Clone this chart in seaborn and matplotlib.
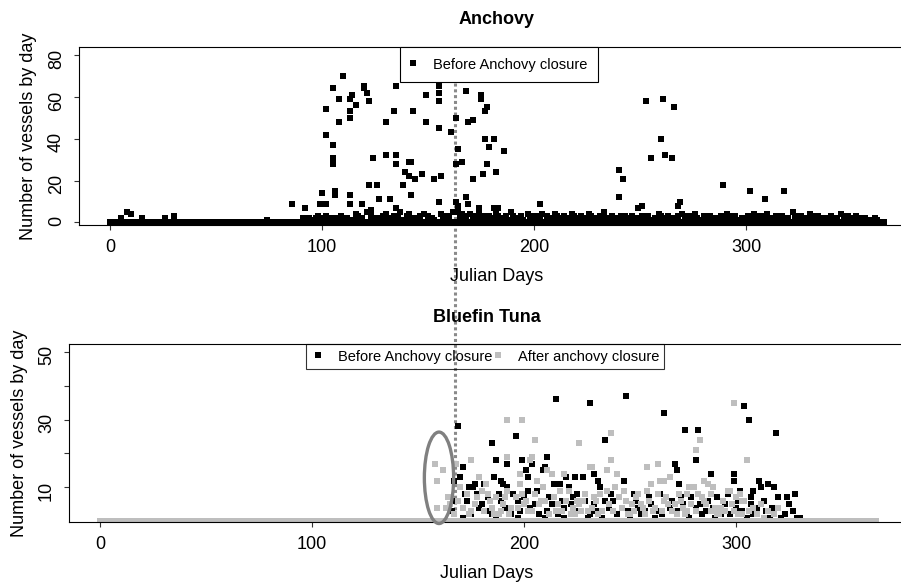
import matplotlib

matplotlib.use("Agg")
import matplotlib.pyplot as plt  # noqa: E402
from matplotlib.lines import Line2D  # noqa: E402
from matplotlib.patches import Ellipse  # noqa: E402
import seaborn as sns  # noqa: E402

# ---- Anchovy: vessels per day ------------------------------------------------
anch_day = [110, 105, 120, 120, 121, 135, 155, 155, 168, 108, 113, 114, 122, 116, 149,
            155, 102, 113, 113, 134, 143, 108, 130, 149, 155, 161, 163, 169, 102, 105,
            105, 105, 124, 130, 135, 135, 141, 142, 163, 166, 164, 139, 141, 144, 147,
            153, 156, 122, 126, 138, 100, 106, 106, 113, 127, 132, 142, 155, 86, 92,
            99, 102, 113, 119, 123, 135, 163, 164, 168, 175, 175, 178, 177, 171, 177,
            181, 179, 186, 178, 171, 176, 182, 169, 174, 181, 183, 203, 240, 242, 240,
            253, 255, 249, 233, 261, 266, 260, 262, 265, 289, 302, 309, 318, 269, 268,
            251, 8, 10, 5, 15, 26, 30, 74]
anch_n = [70, 64, 65, 64, 62, 65, 65, 62, 63, 59, 59, 61, 58, 56, 61,
          58, 54, 53, 50, 53, 53, 48, 48, 48, 45, 43, 50, 48, 42, 37,
          31, 28, 31, 32, 32, 28, 29, 29, 28, 29, 35, 24, 22, 21, 23,
          21, 22, 18, 18, 18, 14, 15, 13, 13, 11, 11, 13, 10, 9, 7,
          9, 9, 9, 9, 6, 7, 10, 8, 12, 61, 59, 55, 53, 49, 40,
          40, 36, 34, 28, 21, 23, 24, 9, 7, 7, 7, 9, 25, 21, 12,
          58, 31, 7, 5, 59, 55, 40, 32, 31, 18, 15, 11, 15, 10, 8,
          8, 5, 4, 2, 2, 2, 3, 1]

# dense low band (1-5 vessels)
anch_low_day = [91, 98, 108, 116, 121, 130, 137, 141, 148, 156, 162, 166, 164, 170, 174,
                182, 189, 197, 204, 210, 218, 226, 241, 259, 270, 276, 288, 291, 304, 310,
                322, 330, 335, 345, 348, 353, 95, 100, 103, 106, 111, 118, 125, 128, 133,
                138, 145, 151, 153, 159, 167, 172, 177, 180, 185, 188, 193, 195, 200, 207,
                213, 215, 221, 224, 229, 236, 238, 245, 247, 252, 256, 262, 265, 273, 279,
                282, 285, 294, 297, 300, 307, 313, 316, 319, 325, 327, 332, 338, 341, 350,
                356, 359, 362, 92, 97,
                94, 99, 102, 104, 109, 112, 114, 117, 119, 123, 126, 129, 131, 134, 136,
                140, 143, 146, 150, 152, 157, 158, 160, 165, 168, 171, 173, 176, 179, 183,
                186, 187, 190, 192, 194, 198, 201, 203, 206, 209, 211, 214, 217, 219, 222,
                225, 227, 231, 234, 237, 240, 243, 246, 248, 251, 254, 257, 260, 263, 266,
                268, 271, 274, 277, 280, 283, 286, 289, 292, 295, 298, 301, 303, 305, 308,
                311, 314, 317, 320, 323, 326, 329, 331, 334, 337, 340, 343, 346, 349, 352,
                355, 358, 361]
anch_low_n = [2, 3, 2, 4, 5, 4, 5, 4, 4, 4, 5, 4, 5, 4, 4,
              5, 5, 4, 4, 4, 4, 4, 3, 4, 4, 4, 3, 4, 4, 4,
              5, 4, 2, 4, 3, 2, 1, 2, 1, 2, 1, 2, 2, 1, 2,
              1, 2, 2, 1, 2, 1, 2, 1, 2, 2, 1, 2, 1, 2, 1,
              2, 1, 2, 1, 2, 1, 2, 2, 1, 2, 1, 2, 1, 2, 1,
              2, 1, 2, 1, 2, 1, 2, 1, 2, 1, 2, 1, 2, 1, 1,
              2, 1, 1, 1, 2,
              2, 1, 3, 2, 3, 2, 1, 3, 2, 3, 2, 3, 2, 3, 2,
              3, 2, 3, 3, 2, 3, 1, 3, 2, 3, 3, 1, 3, 3, 3,
              2, 3, 3, 1, 3, 3, 3, 2, 3, 2, 3, 3, 2, 3, 3,
              2, 3, 3, 2, 3, 1, 3, 3, 2, 3, 3, 2, 3, 3, 2,
              3, 3, 3, 2, 3, 3, 2, 3, 3, 3, 2, 3, 2, 3, 3,
              2, 3, 3, 2, 3, 3, 2, 3, 3, 2, 3, 2, 3, 2, 3,
              2, 1, 2]

# days with zero vessels (the solid row at 0)
anch_zero_day = list(range(0, 366))

# ---- Bluefin tuna: before / after anchovy closure ----------------------------
bft_before_day = [215, 231, 248, 266, 304, 306, 276, 282, 319, 169, 196, 185, 238, 211, 281,
                  187, 192, 199, 204, 201, 209, 210, 233, 239, 271, 272, 288, 299, 299, 186,
                  190, 202, 215, 217, 220, 224, 228, 235, 247, 273, 311, 315, 308, 307, 302,
                  320, 324, 328, 291, 295, 300, 314, 327, 167, 177, 174, 171, 312, 318, 307,
                  308, 323, 221, 236, 223, 241, 253, 259, 267, 274, 219, 233, 244, 255, 265,
                  272, 281, 286, 234, 237, 170, 176, 181, 189, 192, 202, 206, 214, 217, 168,
                  173, 179, 184, 189, 197, 203, 211, 171, 187, 197, 210, 219, 230, 250, 262,
                  278, 290, 305, 316, 330,
                  166, 172, 175, 178, 180, 183, 185, 188, 191, 194, 195, 198, 200, 205, 207,
                  212, 213, 216, 218, 222, 225, 226, 229, 231, 238, 240, 242, 246, 249, 252,
                  254, 257, 260, 263, 264, 269, 270, 275, 277, 279, 283, 284, 287, 289, 293,
                  296, 297, 301, 303, 310, 313, 317, 321, 325, 329]
bft_before_n = [36, 35, 37, 32, 34, 30, 27, 27, 26, 28, 25, 23, 24, 19, 18,
                18, 17, 18, 17, 15, 15, 16, 14, 15, 17, 15, 14, 14, 12, 13,
                11, 13, 11, 11, 13, 13, 13, 12, 12, 11, 12, 11, 9, 7, 9,
                7, 7, 8, 7, 5, 4, 3, 3, 12, 11, 10, 16, 10, 10, 5,
                2, 2, 10, 10, 7, 8, 6, 7, 7, 7, 4, 5, 2, 2, 2,
                3, 4, 3, 3, 1, 13, 10, 11, 12, 10, 9, 9, 11, 9, 6,
                6, 4, 3, 6, 6, 4, 3, 1, 1, 1, 1, 1, 1, 1, 1,
                1, 1, 1, 1, 1,
                3, 8, 2, 8, 5, 7, 2, 8, 4, 2, 8, 3, 7, 5, 2,
                7, 5, 2, 6, 5, 8, 3, 6, 2, 6, 4, 6, 4, 3, 8,
                4, 3, 5, 3, 8, 4, 6, 5, 2, 7, 5, 2, 6, 4, 2,
                8, 2, 6, 3, 4, 6, 4, 1, 5, 1]

bft_after_day = [158, 162, 159, 164, 159, 163, 168, 175, 192, 199, 205, 192, 204, 299, 241,
                 226, 283, 281, 241, 305, 263, 258, 232, 203, 198, 213, 219, 239, 260, 266,
                 269, 285, 287, 296, 303, 179, 182, 244, 264, 278, 280, 289, 258, 267, 277,
                 282, 253, 248, 226, 233, 239, 245, 231, 170, 178, 184, 192, 198, 206, 209,
                 217, 175, 189, 194, 202, 215, 223, 230, 237, 256, 261, 270, 277, 288, 293,
                 297, 299, 303, 313, 302, 304, 211, 186, 200, 208, 222, 228, 250, 268, 274,
                 285, 292,
                 165, 167, 169, 171, 173, 174, 177, 180, 181, 183, 185, 187, 188, 190, 191,
                 193, 196, 197, 199, 201, 204, 205, 207, 210, 212, 214, 216, 218, 220, 221,
                 224, 225, 227, 229, 232, 234, 235, 236, 240, 242, 243, 246, 247, 249, 251,
                 252, 254, 255, 257, 259, 262, 263, 265, 266, 271, 272, 273, 275, 276, 279,
                 281, 284, 286, 288, 290, 291, 294, 295, 298, 300, 301, 306, 308, 310, 312,
                 315, 318, 320]
bft_after_n = [17, 15, 12, 7, 4, 4, 17, 18, 30, 30, 24, 19, 19, 35, 26,
               23, 24, 21, 18, 18, 17, 16, 16, 18, 14, 14, 14, 15, 11, 12,
               13, 12, 11, 9, 6, 13, 11, 14, 12, 10, 10, 10, 9, 7, 8,
               8, 7, 6, 5, 7, 9, 7, 16, 10, 7, 6, 9, 11, 12, 10,
               9, 3, 3, 4, 3, 3, 4, 3, 3, 4, 3, 3, 3, 3, 4,
               9, 3, 2, 1, 8, 6, 15, 2, 5, 6, 2, 6, 2, 5, 6,
               6, 2,
               5, 2, 6, 4, 8, 2, 5, 9, 3, 8, 4, 7, 2, 5, 7,
               2, 7, 4, 8, 6, 3, 8, 5, 6, 2, 7, 5, 3, 6, 9,
               2, 6, 3, 8, 4, 6, 2, 8, 5, 3, 10, 4, 9, 2, 5,
               3, 8, 5, 2, 6, 4, 8, 3, 6, 5, 2, 8, 4, 2, 5,
               3, 7, 5, 8, 4, 2, 6, 3, 5, 7, 2, 3, 4, 2, 5,
               3, 2, 4]

bft_zero_day = list(range(0, 367))

# ---- styling -----------------------------------------------------------------
sns.set_style("white")
plt.rcParams["font.family"] = ["Liberation Sans", "DejaVu Sans"]
plt.rcParams.update({"text.color": "black", "axes.labelcolor": "black",
                     "xtick.color": "black", "ytick.color": "black"})
BLACK, GREY = "#000000", "#BEBEBE"
FS = 13
W, H = 901, 584

fig = plt.figure(figsize=(W / 100, H / 100), dpi=100)


def axes_px(left, right, top, bottom):
    return fig.add_axes([left / W, 1 - bottom / H, (right - left) / W, (bottom - top) / H])


ax1 = axes_px(79.05, 914.75, 47, 225)
ax2 = axes_px(69.05, 904.75, 344, 522)
ax2.patch.set_alpha(0)

pts = dict(marker="s", s=22, linewidth=0, legend=False)

# top panel
sns.scatterplot(x=anch_zero_day, y=[0] * len(anch_zero_day), color=BLACK, ax=ax1, **pts)
sns.scatterplot(x=anch_low_day, y=anch_low_n, color=BLACK, ax=ax1, **pts)
sns.scatterplot(x=anch_day, y=anch_n, color=BLACK, ax=ax1, **pts)

# bottom panel
sns.scatterplot(x=bft_before_day, y=bft_before_n, color=BLACK, ax=ax2, **pts)
sns.scatterplot(x=bft_after_day, y=bft_after_n, color=GREY, ax=ax2, **pts)
sns.scatterplot(x=bft_zero_day, y=[0] * len(bft_zero_day), color=GREY, ax=ax2, **pts)

ax1.set_xlim(-14.6, 379.6)
ax1.set_ylim(-1.2, 83.8)
ax2.set_xlim(-14.6, 379.6)
ax2.set_ylim(-0.25, 52.3)

for ax in (ax1, ax2):
    ax.set_xticks([0, 100, 200, 300])
    ax.tick_params(direction="out", length=3.6, width=0.8, pad=6.5, labelsize=FS,
                   color="#333333", labelcolor="black", left=True, bottom=True)
    ax.tick_params(axis="y", labelrotation=90)
    for sp in ax.spines.values():
        sp.set_color("black")
        sp.set_linewidth(0.8)
    ax.grid(False)
    ax.set_xlabel("Julian Days", fontsize=FS, color="black")
    ax.set_ylabel("Number of vessels by day", fontsize=FS, color="black")
    ax.xaxis.label.set_va("center")
    ax.yaxis.label.set_va("center")

ax1.set_yticks([0, 20, 40, 60, 80])
ax2.set_yticks([10, 20, 30, 40, 50])
ax2.set_yticklabels(["10", "", "30", "", "50"])

ax1.xaxis.set_label_coords(0.5, -52 / 178)
ax2.xaxis.set_label_coords(0.5, -51 / 178)
ax1.yaxis.set_label_coords(-51 / 835.7, 0.5)
ax2.yaxis.set_label_coords(-50 / 835.7, 0.5)

ax1.text(0.5, 1 + 27 / 178, "Anchovy", transform=ax1.transAxes, ha="center", va="center",
         fontsize=FS, fontweight="bold", color="black")
ax2.text(0.5, 1 + 27 / 178, "Bluefin Tuna", transform=ax2.transAxes, ha="center", va="center",
         fontsize=FS, fontweight="bold", color="black")

# closure date: dotted line running through both panels
ax1.add_line(Line2D([455 / W, 455 / W], [1 - 83 / H, 1 - 521 / H], transform=fig.transFigure,
                    color="#8a8a8a", lw=2.2, ls=(0, (1, 0.9)), clip_on=False, zorder=0.5))

# highlighted early tuna records
ax2.add_patch(Ellipse((159.9, 12.8), width=13.8, height=27, fill=False, ec="#808080", lw=2.4,
                      clip_on=False, zorder=3))

h_black = Line2D([], [], marker="s", ls="none", color=BLACK, markersize=4.6, markeredgewidth=0)
h_grey = Line2D([], [], marker="s", ls="none", color=GREY, markersize=4.6, markeredgewidth=0)

leg1 = ax1.legend([h_black], ["Before Anchovy closure"], loc="upper left",
                  bbox_to_anchor=(400 / W, 1 - 47 / H), bbox_transform=fig.transFigure,
                  borderaxespad=0, fancybox=False, edgecolor="black", framealpha=1,
                  fontsize=10.5, borderpad=0.72, handlelength=0.34, handletextpad=1.2,
                  labelcolor="black")
leg1.get_frame().set_linewidth(0.8)

leg2 = ax2.legend([h_black, h_grey], ["Before Anchovy closure", "After anchovy closure"],
                  loc="upper left", ncol=2, bbox_to_anchor=(306 / W, 1 - 344 / H),
                  bbox_transform=fig.transFigure, borderaxespad=0, fancybox=False,
                  edgecolor="black", fontsize=10.5, borderpad=0.38, handlelength=0.9,
                  handletextpad=0.92, columnspacing=-0.1, labelcolor="black")
leg2.get_frame().set_linewidth(0.8)
leg2.get_frame().set_facecolor("none")

fig.savefig("out.png", dpi=100)
